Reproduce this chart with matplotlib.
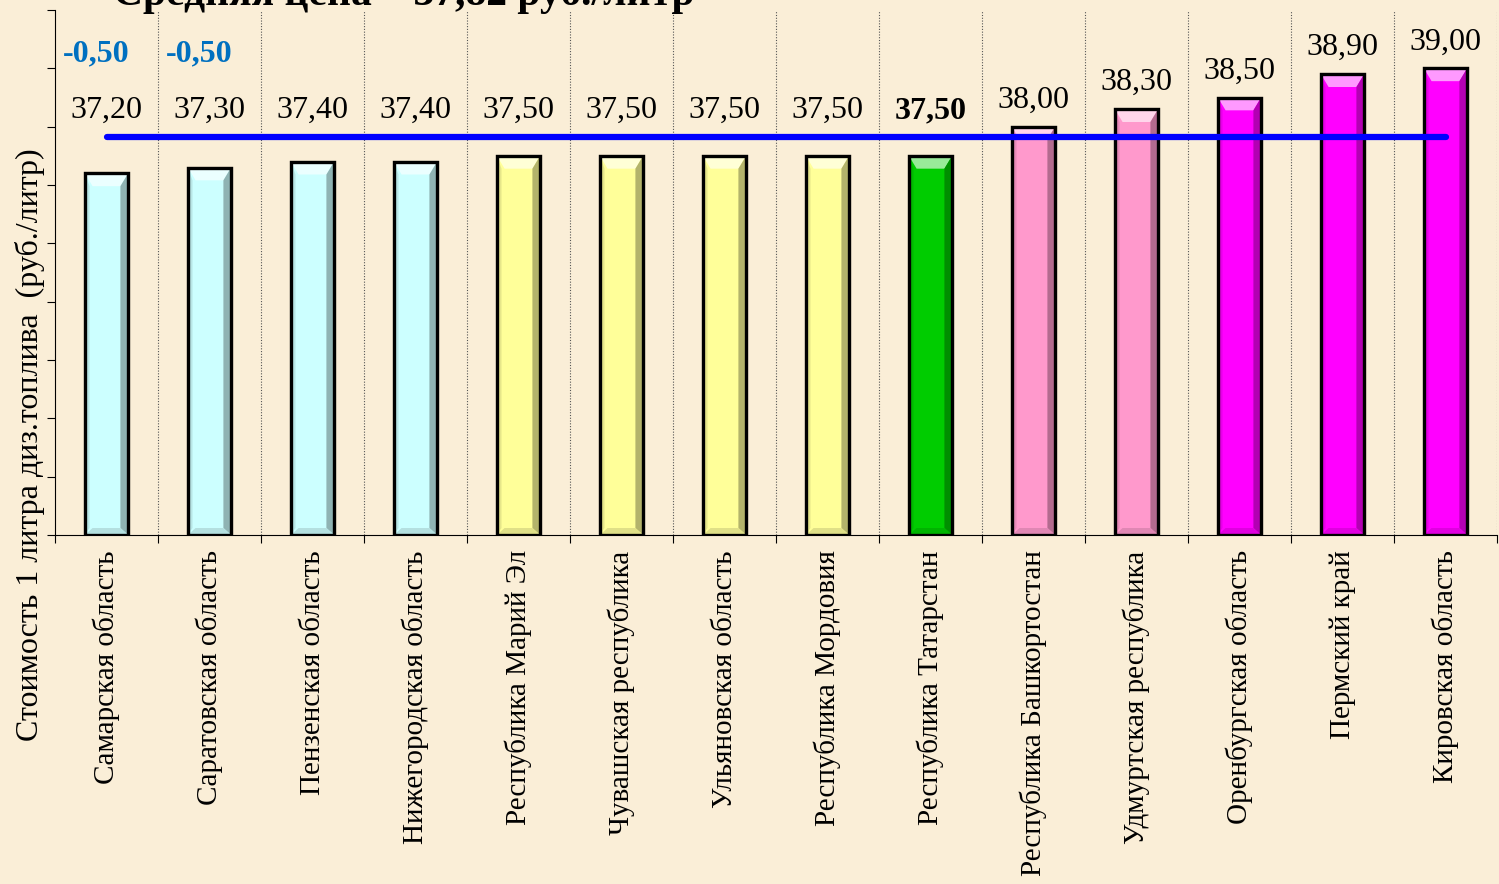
import numpy as np
import matplotlib.pyplot as plt
from matplotlib.patches import Polygon
from matplotlib.colors import to_rgb

plt.rcParams['font.family'] = ['Liberation Serif', 'DejaVu Serif']

# data
regions = [
    "Самарская область", "Саратовская область", "Пензенская область",
    "Нижегородская область", "Республика Марий Эл", "Чувашская республика",
    "Ульяновская область", "Республика Мордовия", "Республика Татарстан",
    "Республика Башкортостан", "Удмуртская республика", "Оренбургская область",
    "Пермский край", "Кировская область",
]
prices = [37.20, 37.30, 37.40, 37.40, 37.50, 37.50, 37.50, 37.50, 37.50,
          38.00, 38.30, 38.50, 38.90, 39.00]
avg_price = 37.82
diff_labels = ["-0,50", "-0,50"]  # for the first two regions
highlight = "Республика Татарстан"

bar_colors = ["#CCFFFF"] * 4 + ["#FFFF99"] * 4 + ["#00CC00"] + ["#FF99CC"] * 2 + ["#FF00FF"] * 3

bg = "#FAEED7"
y_min, y_max = 31, 40


def mix(c, other, t):
    c = np.array(to_rgb(c))
    o = np.array(to_rgb(other))
    return tuple(c * (1 - t) + o * t)


fig = plt.figure(figsize=(14.99, 8.84), dpi=100, facecolor=bg)
ax = fig.add_axes([55 / 1499, 1 - 535 / 884, 1442 / 1499, 525 / 884])
ax.set_facecolor(bg)

x = np.arange(len(regions))
w = 0.42
bars = ax.bar(x, [p - y_min for p in prices], bottom=y_min, width=w,
              color=bar_colors, edgecolor="black", linewidth=2.2, zorder=3)

# simple bevel look on each bar
dx, dy, dyb = 0.075, 0.22, 0.12
for rect, col in zip(bars, bar_colors):
    x0 = rect.get_x()
    x1 = x0 + rect.get_width()
    b = rect.get_y()
    t = b + rect.get_height()
    shapes = [
        ([(x0, t), (x1, t), (x1 - dx, t - dy), (x0 + dx, t - dy)], mix(col, "white", 0.6)),
        ([(x1, t), (x1, b), (x1 - dx, b + dyb), (x1 - dx, t - dy)], mix(col, "black", 0.3)),
        ([(x0, b), (x1, b), (x1 - dx, b + dyb), (x0 + dx, b + dyb)], mix(col, "black", 0.12)),
        ([(x0, t), (x0, b), (x0 + dx * 0.6, b + dyb), (x0 + dx * 0.6, t - dy)], mix(col, "black", 0.1)),
    ]
    for pts, c in shapes:
        ax.add_patch(Polygon(pts, closed=True, facecolor=c, edgecolor="none", zorder=3.5))
    ax.add_patch(plt.Rectangle((x0, b), x1 - x0, t - b, fill=False,
                               edgecolor="black", linewidth=2.4, zorder=3.6))

# average line
ax.plot([x[0], x[-1]], [avg_price, avg_price], color="#0000FF", linewidth=4.5,
        solid_capstyle="round", zorder=5)

# value labels
for i, (name, p) in enumerate(zip(regions, prices)):
    ax.annotate(f"{p:.2f}".replace(".", ","), (i, max(p, avg_price)),
                xytext=(0, 19), textcoords="offset points", ha="center", va="center",
                fontsize=23, fontweight="bold" if name == highlight else "normal",
                zorder=6)

for i, lab in enumerate(diff_labels):
    ax.text(i - 0.1, 39.25, lab, ha="center", va="center", fontsize=23,
            fontweight="bold", color="#0070C0", zorder=6)

# dotted separators between regions
for b in np.arange(0.5, len(regions), 1.0):
    ax.axvline(b, color="#555555", linestyle=(0, (1, 1.5)), linewidth=0.8, zorder=1)

ax.set_xlim(-0.5, len(regions) - 0.5)
ax.set_ylim(y_min, y_max)
ax.set_xticks(x)
ax.set_xticklabels(regions, rotation=90, fontsize=21, va="top", ha="center")
ax.set_xticks(np.arange(-0.5, len(regions), 1.0), minor=True)
ax.tick_params(axis="x", which="major", length=0, pad=11)
ax.tick_params(axis="x", which="minor", length=6, width=0.8, direction="out")
ax.set_yticks(np.arange(y_min, y_max + 1, 1))
ax.set_yticklabels([])
ax.tick_params(axis="y", length=6, width=0.8, direction="out")

for s in ["top", "right"]:
    ax.spines[s].set_visible(False)
for s in ["left", "bottom"]:
    ax.spines[s].set_linewidth(0.8)

fig.text(30 / 1499, 1 - 445 / 884, "Стоимость 1 литра диз.топлива  (руб./литр)",
         rotation=90, ha="center", va="center", fontsize=23)

fig.text(404 / 1499, 1 - 5 / 884, f"Средняя цена – {avg_price:.2f}".replace(".", ",") + " руб./литр",
         ha="center", va="baseline", fontsize=30, fontweight="bold")

fig.savefig("out.png", dpi=100, facecolor=bg)
